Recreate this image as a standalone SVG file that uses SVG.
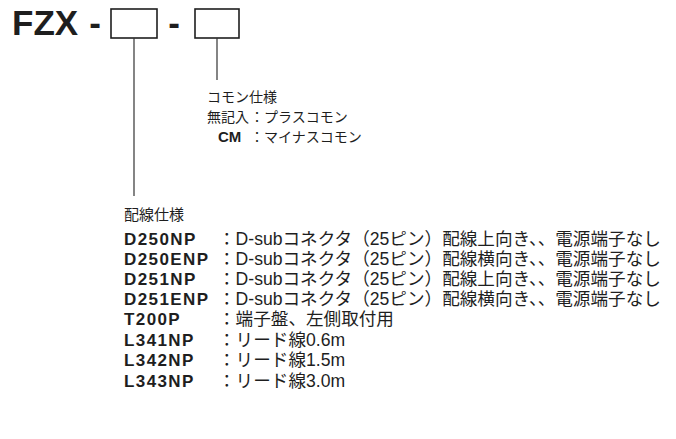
<svg xmlns="http://www.w3.org/2000/svg" width="676" height="439" viewBox="0 0 676 439">
<style>
text{font-family:"Liberation Sans","Noto Sans CJK JP",sans-serif;fill:#1e1e1e}
.t{font-size:35px;font-weight:bold}
.h{font-size:14px}
.cm{font-size:15px;font-weight:bold}
.c{font-size:17px;font-weight:bold;letter-spacing:1.4px}
.hd{font-size:15px}
.d{font-size:17.6px}
.box{fill:none;stroke:#1e1e1e;stroke-width:1.6}
.ln{stroke:#333;stroke-width:1.2;fill:none}
</style>
<rect width="676" height="439" fill="#fff"/>
<g id="title">
<text class="t" x="12" y="35">FZX</text>
<text class="t" x="95" y="35" text-anchor="middle">-</text>
<text class="t" x="174" y="35" text-anchor="middle">-</text>
</g>
<g id="box1"><rect class="box" x="111" y="9" width="46" height="29"/></g>
<g id="box2"><rect class="box" x="195" y="9" width="44" height="29"/></g>
<g id="connectors">
<line class="ln" x1="134" y1="38" x2="134" y2="196"/>
<line class="ln" x1="217" y1="38" x2="217" y2="80"/>
</g>
<g id="common">
<text class="h" x="207" y="102">コモン仕様</text>
<text class="h" x="207" y="122">無記入</text>
<text class="h" x="250" y="122">：プラスコモン</text>
<text class="cm" x="218" y="142">CM</text>
<text class="h" x="250" y="142">：マイナスコモン</text>
</g>
<g id="wiring">
<text class="hd" x="124" y="220">配線仕様</text>
<text class="c" x="124" y="245">D250NP</text>
<text class="d" x="218" y="245">：D-subコネクタ（25ピン）配線上向き、、電源端子なし</text>
<text class="c" x="124" y="265">D250ENP</text>
<text class="d" x="218" y="265">：D-subコネクタ（25ピン）配線横向き、、電源端子なし</text>
<text class="c" x="124" y="285">D251NP</text>
<text class="d" x="218" y="285">：D-subコネクタ（25ピン）配線上向き、、電源端子なし</text>
<text class="c" x="124" y="305">D251ENP</text>
<text class="d" x="218" y="305">：D-subコネクタ（25ピン）配線横向き、、電源端子なし</text>
<text class="c" x="124" y="325">T200P</text>
<text class="d" x="218" y="325">：端子盤、左側取付用</text>
<text class="c" x="124" y="346">L341NP</text>
<text class="d" x="218" y="346">：リード線0.6m</text>
<text class="c" x="124" y="366">L342NP</text>
<text class="d" x="218" y="366">：リード線1.5m</text>
<text class="c" x="124" y="387">L343NP</text>
<text class="d" x="218" y="387">：リード線3.0m</text>
</g>
</svg>
